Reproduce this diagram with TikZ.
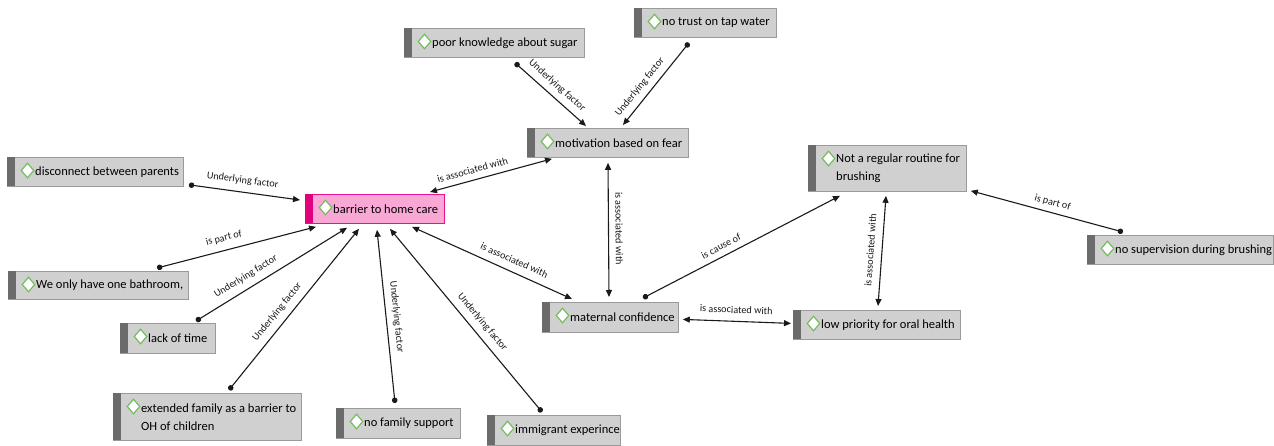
\documentclass[tikz,border=0pt]{standalone}
\usepackage{fontspec}
\setmainfont{Carlito}
\usetikzlibrary{arrows.meta,calc,shapes.geometric}
\definecolor{boxfill}{HTML}{D0D0D0}
\definecolor{boxdraw}{HTML}{9A9A9A}
\definecolor{stripgray}{HTML}{6B6B6B}
\definecolor{pinkfill}{HTML}{F9A8D6}
\definecolor{pinkdraw}{HTML}{E8138C}
\definecolor{pinkstrip}{HTML}{E3007D}
\definecolor{icongreen}{HTML}{74BC5E}
\definecolor{edgec}{HTML}{1A1A1A}
\tikzset{
  cbox/.style={rectangle, draw=boxdraw, fill=boxfill, line width=0.8pt, inner sep=0pt},
  pbox/.style={cbox, draw=pinkdraw, fill=pinkfill},
  icon/.style={diamond, draw=icongreen, fill=white, line width=1.2pt, inner sep=0pt, minimum width=13pt, minimum height=15pt},
  ctext/.style={font=\fontsize{12.5}{18}\selectfont, align=left, inner sep=0pt, text=black},
  mytip/.tip={Triangle[length=7pt,width=6pt]},
  edge/.style={line width=1.1pt, draw=edgec},
  uf/.style={edge, {Circle[length=5.5pt]}-mytip},
  bi/.style={edge, mytip-mytip},
  lab/.style={font=\fontsize{10.2}{12}\selectfont, sloped, inner sep=0pt, text=black!90}
}
% #1 box style, #2 strip colour, #3 name, #4 x, #5 y, #6 w, #7 h, #8 text
\newcommand\conceptbox[8]{%
  \node[#1, minimum width=#6pt, minimum height=#7pt, anchor=north west] (#3) at (#4,#5) {};
  \fill[#2] ([shift={(0.4pt,-0.4pt)}]#3.north west) rectangle ([shift={(8pt,0.4pt)}]#3.south west);
  \node[icon] (#3-i) at ($(#3.north west)+(20.5,13.5)$) {};
  \node[ctext, anchor=west] (#3-t) at ($(#3.west)+(28,0)$) {#8};
}
\begin{document}
\begin{tikzpicture}[x=1pt,y=-1pt]
\useasboundingbox (0,0) rectangle (1274,445);
\conceptbox{cbox}{stripgray}{poor}{404}{28}{180}{29}{poor knowledge about sugar}
\conceptbox{cbox}{stripgray}{trust}{634}{8}{142}{29}{no trust on tap water}
\conceptbox{cbox}{stripgray}{motiv}{527}{128}{161}{29}{motivation based on fear}
\conceptbox{cbox}{stripgray}{disc}{7}{157}{176}{29}{disconnect between parents}
\conceptbox{pbox}{pinkstrip}{barrier}{305}{194}{139}{29}{barrier to home care}
\conceptbox{cbox}{stripgray}{notreg}{808}{145}{158}{46}{Not a regular routine for\\brushing}
\conceptbox{cbox}{stripgray}{nosup}{1087}{235}{186}{29}{no supervision during brushing}
\conceptbox{cbox}{stripgray}{bath}{8}{271}{180}{28}{We only have one bathroom,}
\conceptbox{cbox}{stripgray}{mat}{542}{302}{136}{30}{maternal confidence}
\conceptbox{cbox}{stripgray}{lowp}{793}{310}{167}{29}{low priority for oral health}
\conceptbox{cbox}{stripgray}{lack}{120}{323}{95}{30}{lack of time}
\conceptbox{cbox}{stripgray}{ext}{113}{393}{188}{47}{extended family as a barrier to\\OH of children}
\conceptbox{cbox}{stripgray}{nofam}{336}{408}{124}{30}{no family support}
\conceptbox{cbox}{stripgray}{immi}{487}{415}{133}{30}{immigrant experince}

% connectors
\draw[uf] ($(poor.south west)+(111,5)$) -- node[lab, pos=0.49, above=6pt] {Underlying factor} ($(motiv.north west)+(59,-2)$);
\draw[uf] ($(trust.south west)+(55,5)$) -- node[lab, pos=0.62, above=5.5pt] {Underlying factor} ($(motiv.north west)+(96,-3)$);
\draw[bi] ($(barrier.north west)+(125,-2)$) -- node[lab, pos=0.37, above=6pt] {is associated with} ($(motiv.south west)+(25,1)$);
\draw[bi] ($(motiv.south west)+(81,5)$) -- node[lab, pos=0.49, above=6.5pt] {is associated with} ($(mat.north west)+(67,-5)$);
\draw[uf] ($(disc.south east)+(5,-2)$) -- node[lab, pos=0.47, above=6.5pt] {Underlying factor} ($(barrier.north west)+(-5,6)$);
\draw[uf] ($(bath.north west)+(149,-3)$) -- node[lab, pos=0.44, above=7pt] {is part of} ($(barrier.south west)+(11,3)$);
\draw[uf] ($(lack.north west)+(76,-2)$) -- node[lab, pos=0.37, above=6.5pt] {Underlying factor} ($(barrier.south west)+(42,4)$);
\draw[uf] ($(ext.north west)+(116,-3)$) -- node[lab, pos=0.44, above=6.5pt] {Underlying factor} ($(barrier.south west)+(54,5)$);
\draw[uf] ($(nofam.north west)+(59,-5)$) -- node[lab, pos=0.49, above=5.5pt] {Underlying factor} ($(barrier.south west)+(72,6)$);
\draw[uf] ($(immi.north west)+(55,-3)$) -- node[lab, pos=0.45, above=6.5pt] {Underlying factor} ($(barrier.south west)+(85,5)$);
\draw[bi] ($(barrier.south west)+(107,3)$) -- node[lab, pos=0.61, above=7.5pt] {is associated with} ($(mat.north west)+(30,-3)$);
\draw[uf] ($(mat.north west)+(101,-4)$) -- node[lab, pos=0.42, above=6pt] {is cause of} ($(notreg.south west)+(32,4)$);
\draw[bi] ($(mat.east)+(4,2)$) -- node[lab, pos=0.49, above=7.5pt] {is associated with} ($(lowp.west)+(-2,-1.5)$);
\draw[bi] ($(lowp.north west)+(85,-4)$) -- node[lab, pos=0.5, above=7.5pt] {is associated with} ($(notreg.south west)+(78,4)$);
\draw[uf] ($(nosup.north west)+(36,-3)$) -- node[lab, pos=0.48, above=5pt] {is part of} ($(notreg.south east)+(4,-1)$);
\end{tikzpicture}
\end{document}
